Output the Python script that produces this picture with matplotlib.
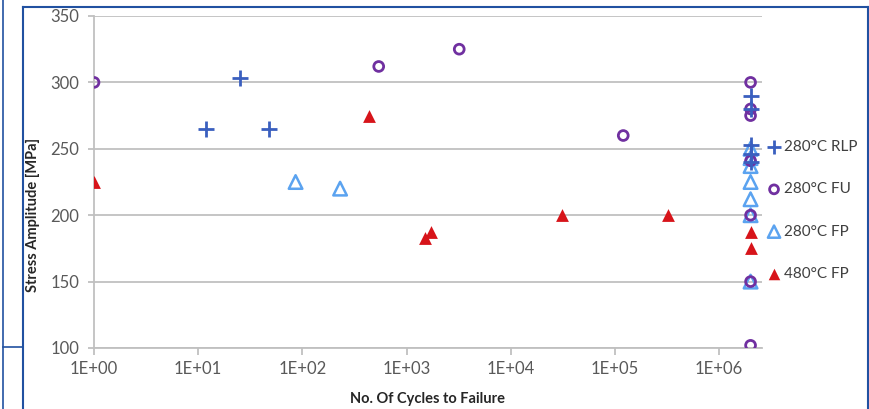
import numpy as np
import matplotlib.pyplot as plt
from matplotlib.lines import Line2D

plt.rcParams['font.family'] = ['Lato', 'DejaVu Sans']

# 280°C RLP (cruces)
rlp_ciclos = [12, 25, 48, 2.0e6, 2.0e6, 2.0e6, 2.0e6, 2.0e6]
rlp_tension = [265, 303, 265, 290, 280, 253, 246, 240]

# 280°C FU (circulos)
fu_ciclos = [1, 540, 3200, 1.2e5, 2.0e6, 2.0e6, 2.0e6, 2.0e6, 2.0e6, 2.0e6, 2.0e6]
fu_tension = [300, 312, 325, 260, 300, 280, 275, 241, 200, 150, 102]

# 280°C FP (triangulos huecos)
fp280_ciclos = [86, 230, 2.0e6, 2.0e6, 2.0e6, 2.0e6, 2.0e6, 2.0e6, 2.0e6]
fp280_tension = [225, 220, 250, 243, 237, 225, 212, 200, 150]

# 480°C FP (triangulos rellenos)
fp480_ciclos = [1, 440, 1500, 1700, 3.1e4, 3.2e5, 2.0e6, 2.0e6]
fp480_tension = [225, 275, 183, 187, 200, 200, 187, 175]

etiquetas = ['280°C RLP', '280°C FU', '280°C FP', '480°C FP']
ticks_x = [1, 10, 100, 1e3, 1e4, 1e5, 1e6]
ticks_x_txt = ['1E+00', '1E+01', '1E+02', '1E+03', '1E+04', '1E+05', '1E+06']
ticks_y = [100, 150, 200, 250, 300, 350]

gris_txt = '#595959'

fig = plt.figure(figsize=(8.69, 4.09), dpi=100)
ax = fig.add_axes([94 / 869, 1 - 348 / 409, (762 - 94) / 869, (348 - 16) / 409])

ax.scatter(fp280_ciclos, fp280_tension, marker='^', s=95, facecolors='none',
           edgecolors='#5BA3F0', linewidths=1.8, label=etiquetas[2], zorder=3)
ax.scatter(fp480_ciclos, fp480_tension, marker='^', s=85, color='#D7141A',
           linewidths=0, label=etiquetas[3], zorder=3)
ax.scatter(fu_ciclos, fu_tension, marker='o', s=50, facecolors='none',
           edgecolors='#7030A0', linewidths=2, label=etiquetas[1], zorder=4)
ax.scatter(rlp_ciclos, rlp_tension, marker='+', s=140, color='#3A5FBF',
           linewidths=2, label=etiquetas[0], zorder=5)

ax.set_xscale('log')
ax.set_xlim(1, 10 ** ((762 - 94) / 104.2))
ax.set_ylim(100, 350)
ax.set_xticks(ticks_x)
ax.set_xticklabels(ticks_x_txt)
ax.minorticks_off()
ax.set_yticks(ticks_y)
ax.grid(axis='y', color='#C0C0C0', linewidth=1.3)
ax.set_axisbelow(True)

for lado in ['top', 'right']:
    ax.spines[lado].set_visible(False)
ax.spines['left'].set_color('#C0C0C0')
ax.spines['left'].set_linewidth(1.3)
ax.spines['bottom'].set_color('#C0C0C0')
ax.spines['bottom'].set_linewidth(1.3)
ax.tick_params(axis='y', direction='out', length=4.5, color='#C0C0C0', width=1.3,
               pad=6, labelsize=12, labelcolor=gris_txt)
ax.tick_params(axis='x', direction='out', length=5, color='#C0C0C0', width=1.3,
               pad=4, labelsize=12, labelcolor=gris_txt)

ax.set_xlabel('No. Of Cycles to Failure', fontsize=10.5, fontweight='bold',
              color='#262626')
ax.set_ylabel('Stress Amplitude [MPa]', fontsize=10.5, fontweight='bold',
              color='#262626')
ax.xaxis.set_label_coords((427 - 94) / 668, (348 - 392) / 332)
ax.yaxis.set_label_coords((40 - 94) / 668, (348 - 215) / 332)

# leyenda en el orden original
h, l = ax.get_legend_handles_labels()
orden = [l.index(e) for e in etiquetas]
ax.legend([h[i] for i in orden], [l[i] for i in orden], loc='center left',
          bbox_to_anchor=(0.998, (348 - 210.5) / 332), frameon=False, fontsize=11,
          labelspacing=1.85, handletextpad=0.25, handlelength=0.75, borderpad=0,
          markerscale=0.9, labelcolor='#404040')

# marcos azules de la captura
azul = '#2151A1'
fig.add_artist(Line2D([23 / 869, 868 / 869], [1 - 7 / 409, 1 - 7 / 409], color=azul, lw=1.5))
fig.add_artist(Line2D([23 / 869, 23 / 869], [0, 1 - 7 / 409], color=azul, lw=1.5))
fig.add_artist(Line2D([868 / 869, 868 / 869], [0, 1 - 7 / 409], color=azul, lw=1.5))
fig.add_artist(Line2D([3 / 869, 3 / 869], [0, 1], color=azul, lw=1.2))
fig.add_artist(Line2D([3 / 869, 23 / 869], [1 - 347 / 409, 1 - 347 / 409], color=azul, lw=1.2))

fig.savefig('out.png', dpi=100)
